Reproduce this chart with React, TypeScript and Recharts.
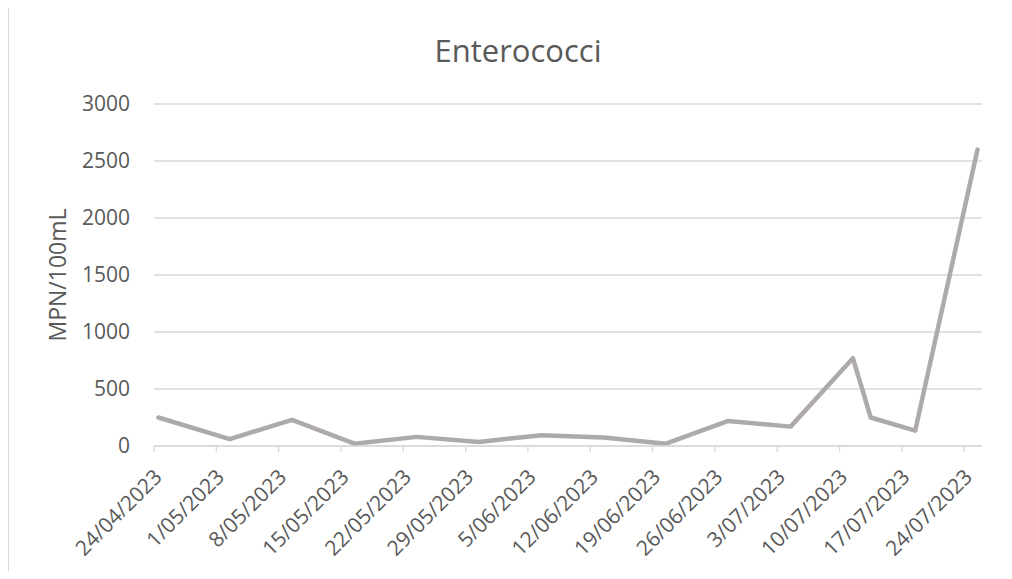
import React from 'react';
import { LineChart, Line, XAxis, YAxis, CartesianGrid } from 'recharts';

// sample dates and results (MPN/100mL)
const sampleDates = [
  '24/04/2023', '2/05/2023', '9/05/2023', '16/05/2023', '23/05/2023',
  '30/05/2023', '6/06/2023', '13/06/2023', '20/06/2023', '27/06/2023',
  '4/07/2023', '11/07/2023', '13/07/2023', '18/07/2023', '25/07/2023',
];
const enterococci = [250, 60, 230, 20, 80, 35, 95, 75, 20, 220, 170, 770, 250, 135, 2600];

const xTickLabels = [
  '24/04/2023', '1/05/2023', '8/05/2023', '15/05/2023', '22/05/2023',
  '29/05/2023', '5/06/2023', '12/06/2023', '19/06/2023', '26/06/2023',
  '3/07/2023', '10/07/2023', '17/07/2023', '24/07/2023',
];
const yTicks = [0, 500, 1000, 1500, 2000, 2500, 3000];

const FONT = '"Open Sans", sans-serif';
const TEXT = '#595959';
const GRID = '#d9d9d9';

const toUtc = (s: string) => {
  const [d, m, y] = s.split('/').map(Number);
  return Date.UTC(y, m - 1, d);
};
const DAY = 86400000;
const origin = toUtc(xTickLabels[0]);
const dayOf = (s: string) => Math.round((toUtc(s) - origin) / DAY);

// Excel date axis, points sit in the middle of each day slot
const data = sampleDates.map((s, i) => ({ x: dayOf(s) + 0.5, value: enterococci[i] }));
const tickDays = xTickLabels.map(dayOf);
const labelByDay: Record<number, string> = {};
xTickLabels.forEach((s) => { labelByDay[dayOf(s)] = s; });
const lastDay = Math.max(...sampleDates.map(dayOf)) + 1;

const DateTick = (props: any) => {
  const { x, y, payload } = props;
  const tx = x + 4;
  const ty = y + 19;
  return (
    <text
      x={tx}
      y={ty}
      dy="0.35em"
      textAnchor="end"
      transform={`rotate(-45, ${tx}, ${ty})`}
      fill={TEXT}
      fontSize={21}
      fontFamily={FONT}
    >
      {labelByDay[payload.value]}
    </text>
  );
};

export default function App() {
  return (
    <div style={{ position: 'relative', width: 996, height: 563 }}>
      <div
        style={{
          position: 'absolute', left: 0, top: -3, width: 1004, height: 574,
          borderLeft: `1.5px solid ${GRID}`, borderTop: `1.5px solid ${GRID}`,
          boxSizing: 'border-box',
        }}
      />
      <svg style={{ position: 'absolute', left: 0, top: 0 }} width={996} height={80}>
        <text x={510} y={54} textAnchor="middle" fill={TEXT} fontSize={31} fontFamily={FONT}>
          Enterococci
        </text>
      </svg>
      <div style={{ position: 'absolute', left: 0, top: 0 }}>
        <LineChart
          width={996}
          height={563}
          data={data}
          margin={{ top: 96, right: 22, left: 30, bottom: 65 }}
        >
          <CartesianGrid vertical={false} stroke={GRID} strokeWidth={1.3} />
          <XAxis
            dataKey="x"
            type="number"
            domain={[0, lastDay]}
            ticks={tickDays}
            interval={0}
            height={60}
            axisLine={{ stroke: GRID, strokeWidth: 1.3 }}
            tickLine={{ stroke: GRID, strokeWidth: 1.3 }}
            tickSize={6}
            tick={<DateTick />}
          />
          <YAxis
            type="number"
            domain={[0, 3000]}
            ticks={yTicks}
            width={116}
            axisLine={false}
            tickLine={false}
            tickSize={0}
            tickMargin={24}
            tick={{ fill: TEXT, fontSize: 21, fontFamily: FONT }}
            label={{
              value: 'MPN/100mL',
              angle: -90,
              position: 'insideLeft',
              offset: 20,
              fill: TEXT,
              fontSize: 23,
              fontFamily: FONT,
              style: { textAnchor: 'middle' },
            }}
          />
          <Line
            type="linear"
            dataKey="value"
            stroke="#AEAAAA"
            strokeWidth={4.5}
            strokeLinejoin="round"
            strokeLinecap="round"
            dot={false}
            activeDot={false}
            isAnimationActive={false}
          />
        </LineChart>
      </div>
    </div>
  );
}
